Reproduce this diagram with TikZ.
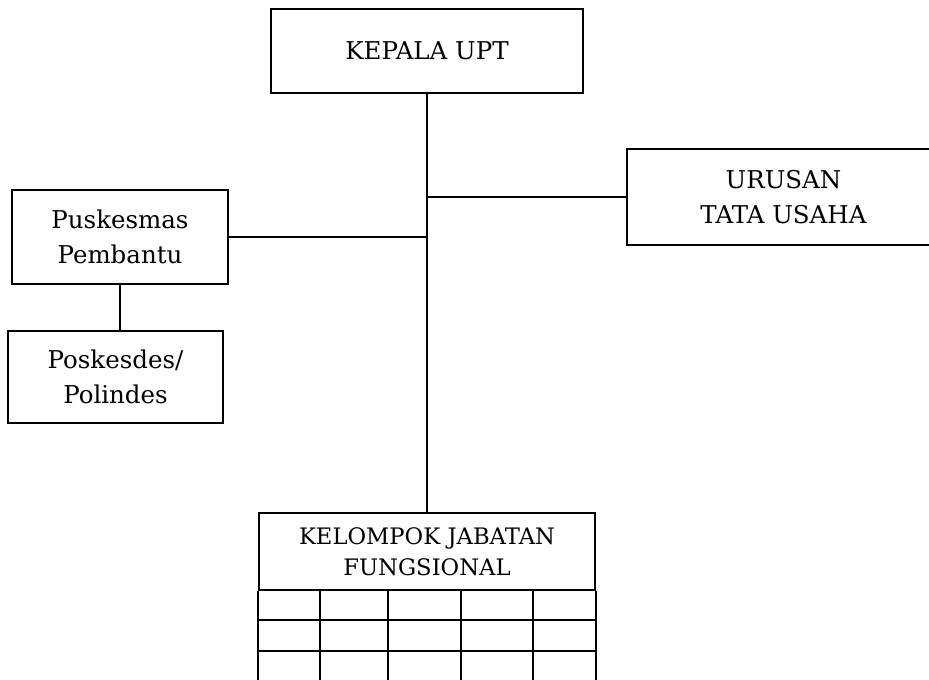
\documentclass[tikz,border=0pt]{standalone}
\usepackage{fontspec}
\setmainfont{DejaVu Serif}
\tikzset{
  unitbox/.style={draw, line width=1.8pt, align=center, inner sep=0pt, font=\fontsize{24.5}{35}\selectfont},
  link/.style={line width=1.8pt},
}
\begin{document}
\begin{tikzpicture}[x=1pt,y=-1pt]
\useasboundingbox (0,0) rectangle (929,680);
\clip (0,0) rectangle (929,680);
\node[unitbox, minimum width=312pt, minimum height=84pt] (kepala) at (427,51) {KEPALA UPT};
\node[unitbox, minimum width=313pt, minimum height=96pt] (urusan) at (783.5,197) {URUSAN\\TATA USAHA};
\node[unitbox, minimum width=216pt, minimum height=94pt] (puskesmas) at (120,237) {Puskesmas\\Pembantu};
\node[unitbox, minimum width=215pt, minimum height=92pt] (poskesdes) at (115.5,377) {Poskesdes/\\Polindes};
\node[unitbox, minimum width=336pt, minimum height=77pt, font=\fontsize{22.7}{31}\selectfont] (kelompok) at (427,551.5) {KELOMPOK JABATAN\\FUNGSIONAL};
\draw[link] (kepala.south) -- (kelompok.north);
\draw[link] (urusan.west) -- (urusan.west -| kepala.south);
\draw[link] (puskesmas.east) -- (puskesmas.east -| kepala.south);
\draw[link] (puskesmas.south) -- (puskesmas.south |- poskesdes.north);
\draw[link] (kelompok.south west) -- ++(0,100);
\draw[link] (kelompok.south east) -- ++(0,100);
\foreach \x in {320,388,461,533}
  \draw[link] (\x,590) -- (\x,690);
\foreach \y in {620,651}
  \draw[link] (kelompok.south west |- 0,\y) -- (kelompok.south east |- 0,\y);
\end{tikzpicture}
\end{document}
